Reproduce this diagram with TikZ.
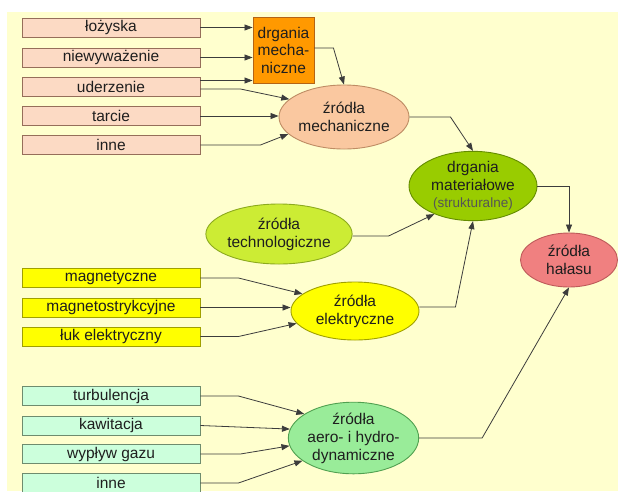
\documentclass[tikz,border=0pt]{standalone}
\usepackage{fontspec}
\setmainfont{Liberation Sans}
\usetikzlibrary{shapes.geometric,arrows.meta,calc}
\definecolor{bgc}{RGB}{255,255,206}
\definecolor{salf}{RGB}{252,218,196}
\definecolor{sald}{RGB}{150,110,90}
\definecolor{orf}{RGB}{255,153,0}
\definecolor{ord}{RGB}{180,100,20}
\definecolor{mechf}{RGB}{250,200,160}
\definecolor{mechd}{RGB}{190,140,100}
\definecolor{matf}{RGB}{153,204,0}
\definecolor{matd}{RGB}{100,140,0}
\definecolor{techf}{RGB}{204,236,52}
\definecolor{techd}{RGB}{140,170,30}
\definecolor{yelf}{RGB}{255,255,0}
\definecolor{yeld}{RGB}{160,160,0}
\definecolor{half}{RGB}{240,128,128}
\definecolor{hald}{RGB}{190,90,90}
\definecolor{aerof}{RGB}{153,236,153}
\definecolor{aerod}{RGB}{80,160,80}
\definecolor{grnf}{RGB}{204,255,220}
\definecolor{grnd}{RGB}{110,140,110}
\definecolor{linec}{RGB}{60,60,60}
\definecolor{txtc}{RGB}{30,30,30}
\tikzset{
  lbox/.style={draw, line width=0.9pt, rectangle, minimum width=178pt, minimum height=19pt, inner sep=0pt,
     font=\fontsize{15.5}{18}\selectfont, text=txtc},
  salbox/.style={lbox, fill=salf, draw=sald},
  yelbox/.style={lbox, fill=yelf, draw=yeld},
  grnbox/.style={lbox, fill=grnf, draw=grnd},
  ell/.style={ellipse, draw, line width=0.9pt, inner sep=0pt, align=center,
     font=\fontsize{15.5}{18}\selectfont, text=txtc},
  conn/.style={draw=linec, line width=0.8pt, -{Triangle[length=8pt,width=6pt]}}
}
\begin{document}
\begin{tikzpicture}[x=1pt,y=-1pt]
\useasboundingbox (0,0) rectangle (618,491);
\fill[white] (0,0) rectangle (618,491);
\fill[bgc] (7,12) rectangle (618,491);
% left boxes
\node[salbox] (loz) at (111,27.5) {łożyska};
\node[salbox] (niew) at (111,57.5) {niewyważenie};
\node[salbox] (ud) at (111,86.5) {uderzenie};
\node[salbox] (tar) at (111,116) {tarcie};
\node[salbox] (inn1) at (111,145) {inne};
\node[yelbox] (mag) at (111,278) {magnetyczne};
\node[yelbox] (mst) at (111,307.5) {magnetostrykcyjne};
\node[yelbox] (luk) at (111,336.5) {łuk elektryczny};
\node[grnbox] (turb) at (111,396) {turbulencja};
\node[grnbox] (kaw) at (111,425.5) {kawitacja};
\node[grnbox] (wyp) at (111,454) {wypływ gazu};
\node[grnbox] (inn2) at (111,483) {inne};
% orange box
\node[draw=ord, fill=orf, line width=0.9pt, minimum width=61pt, minimum height=66pt, inner sep=0pt,
  align=center, font=\fontsize{15.5}{17.5}\selectfont, text=txtc] (dm) at (283.5,50) {drgania\\mecha-\\niczne};
% ellipses
\node[ell, fill=mechf, draw=mechd, minimum width=130pt, minimum height=64pt] (mech) at (344,117) {źródła\\mechaniczne};
\node[ell, fill=matf, draw=matd, minimum width=128pt, minimum height=62pt] (mat) at (473,186)
  {drgania\\materiałowe\\[-1pt]{\fontsize{13.5}{16}\selectfont\color[RGB]{85,85,85}(strukturalne)}};
\node[ell, fill=techf, draw=techd, minimum width=130pt, minimum height=60pt] (tech) at (279,234) {źródła\\technologiczne};
\node[ell, fill=yelf, draw=yeld, minimum width=128pt, minimum height=58pt] (elec) at (355,311) {źródła\\elektryczne};
\node[ell, fill=half, draw=hald, minimum width=97pt, minimum height=54pt] (hal) at (569,260) {źródła\\hałasu};
\node[ell, fill=aerof, draw=aerod, minimum width=125pt, minimum height=58pt] (aero) at (353.5,438) {źródła\\aero- i hydro-\\dynamiczne};
% connectors
\draw[conn] (loz.east) -- (loz.east -| dm.west);
\draw[conn] (niew.east) -- (niew.east -| dm.west);
\draw[conn] ([yshift=6pt]ud.east) -- ([yshift=6pt]ud.east -| dm.west);
\draw[conn] ([yshift=-2.5pt]ud.east) -- ++(40,0) -- (mech.162);
\draw[conn] (tar.east) -- (tar.east -| mech.west);
\draw[conn] (inn1.east) -- ++(60,0) -- (mech.197);
\draw[conn] ([yshift=2pt]dm.east) -- ++(19,0) -- (mech.north);
\draw[conn] (mech.east) -- ++(41,0) -- (mat.north);
\draw[conn] ([yshift=-2pt]tech.east) -- ++(36,0) -- (mat.216);
\draw[conn] ([yshift=4pt]elec.east) -- ++(36,0) -- (mat.south);
\draw[conn] (mat.east) -| (hal.north);
\draw[conn] (aero.east) -- ++(63,0) -- (hal.south);
\draw[conn] (mag.east) -- ++(38,0) -- (elec.162);
\draw[conn] (mst.east) -- (mst.east -| elec.west);
\draw[conn] (luk.east) -- ++(38,0) -- (elec.192);
\draw[conn] (turb.east) -- ++(38,0) -- (aero.154);
\draw[conn] (kaw.east) -- (aero.172);
\draw[conn] (wyp.east) -- ++(40,0) -- (aero.187);
\draw[conn] (inn2.east) -- ++(38,0) -- (aero.204);
\end{tikzpicture}
\end{document}
